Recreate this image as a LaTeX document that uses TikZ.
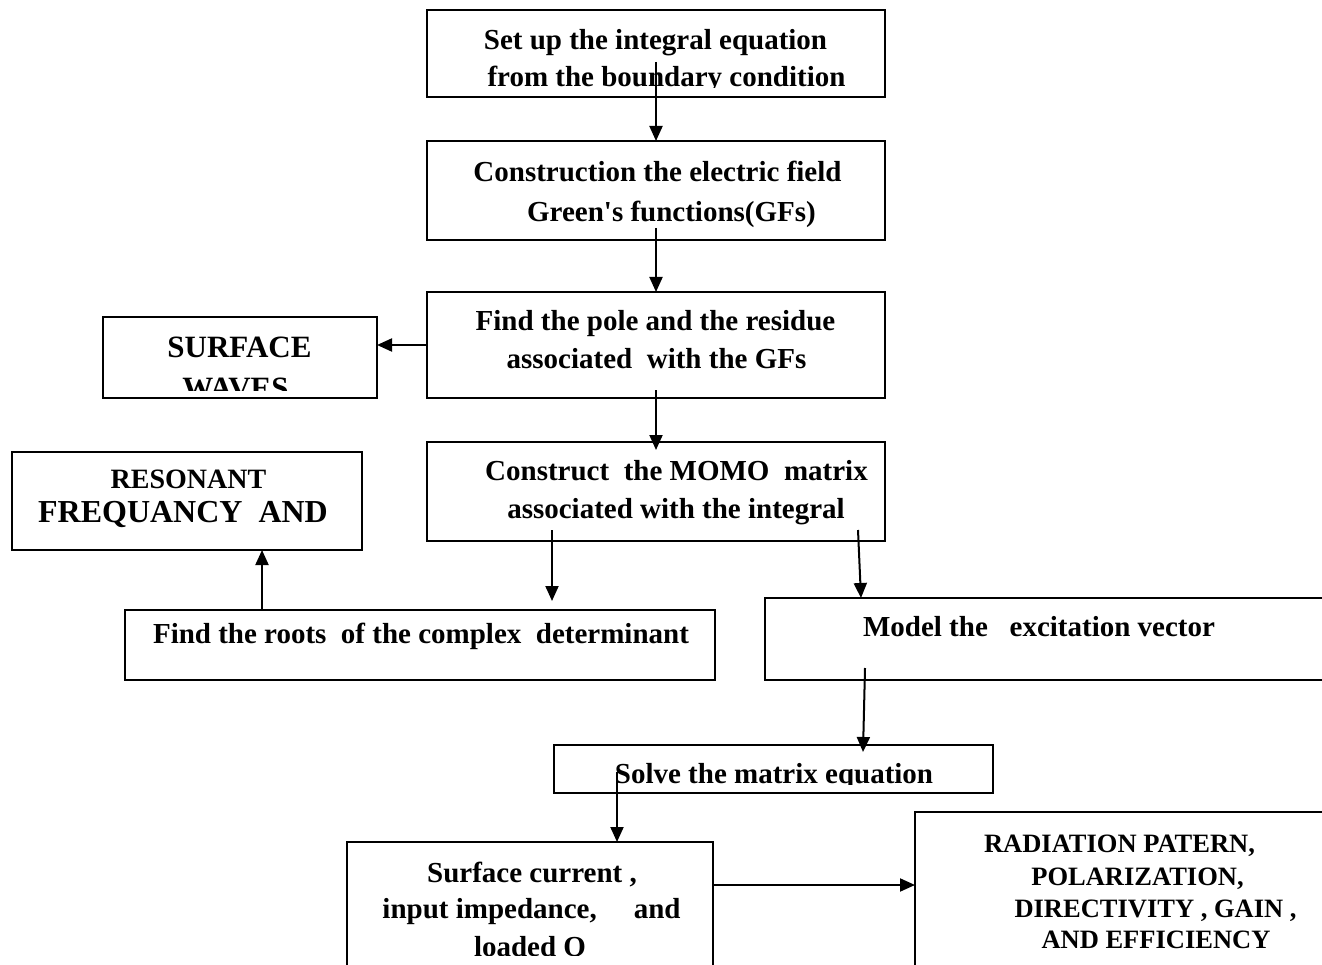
\documentclass[tikz,border=0pt]{standalone}
\usepackage{fontspec}
\setmainfont{Liberation Serif}[Ligatures=TeXOff]
\usetikzlibrary{arrows.meta,calc}
\tikzset{
  box/.style={draw, line width=2pt, rectangle, inner sep=0pt, outer sep=0pt},
  lbl/.style={anchor=base, inner sep=0pt, outer sep=0pt, font=\bfseries\fontsize{29}{29}\selectfont},
  big/.style={font=\bfseries\fontsize{31}{31}\selectfont},
  small/.style={font=\bfseries\fontsize{26.5}{26.5}\selectfont},
  arr/.style={line width=2pt, -{Triangle[length=15pt,width=13pt]}}
}
\begin{document}
\begin{tikzpicture}[x=1pt,y=-1pt]
\useasboundingbox (0,0) rectangle (1322,965);
\clip (0,0) rectangle (1322,965);

% boxes
\node[box, minimum width=458pt, minimum height=87pt]  (A) at (656,53.5) {};
\node[box, minimum width=458pt, minimum height=99pt]  (B) at (656,190.5) {};
\node[box, minimum width=458pt, minimum height=106pt] (C) at (656,345) {};
\node[box, minimum width=274pt, minimum height=81pt]  (D) at (240,357.5) {};
\node[box, minimum width=458pt, minimum height=99pt]  (E) at (656,491.5) {};
\node[box, minimum width=350pt, minimum height=98pt]  (F) at (187,501) {};
\node[box, minimum width=590pt, minimum height=70pt]  (G) at (420,645) {};
\node[box, minimum width=580pt, minimum height=82pt]  (H) at (1055,639) {};
\node[box, minimum width=439pt, minimum height=48pt]  (I) at (773.5,769) {};
\node[box, minimum width=366pt, minimum height=148pt] (J) at (530,916) {};
\node[box, minimum width=430pt, minimum height=178pt] (K) at (1130,901) {};

% texts
\node[lbl] (tA1) at (655.5,50) {Set up the integral equation};
\begin{scope}
  \clip (427,10) rectangle (885,88);
  \node[lbl] (tA2) at (666.5,87) {from the boundary condition};
\end{scope}
\node[lbl] (tB1) at (657.5,182) {Construction the electric field};
\node[lbl] (tB2) at (671.5,222) {Green's functions(GFs)};
\node[lbl] (tC1) at (655.5,331) {Find the pole and the residue};
\node[lbl] (tC2) at (656.5,369) {associated\ \ with the GFs};
\node[lbl, big] (tD1) at (239.5,357) {SURFACE};
\begin{scope}
  \clip (103,317) rectangle (377,390);
  \node[lbl, big] (tD2) at (235.5,398) {WAVES};
\end{scope}
\node[lbl] (tE1) at (676.5,480) {Construct\ \ the MOMO\ \ matrix};
\node[lbl] (tE2) at (676,518) {associated with the integral};
\node[lbl, font=\bfseries\fontsize{28}{28}\selectfont] (tF1) at (188.5,488) {RESONANT};
\node[lbl, font=\bfseries\fontsize{32}{32}\selectfont] (tF2) at (183,522) {FREQUANCY\ \ AND};
\node[lbl] (tG) at (421,643) {Find the roots\ \ of the complex\ \ determinant};
\node[lbl] (tH) at (1039,636) {Model the\ \ \ excitation vector};
\begin{scope}
  \clip (554,745) rectangle (993,784);
  \node[lbl] (tI) at (774,783) {Solve the matrix equation};
\end{scope}
\node[lbl] (tJ1) at (532,882) {Surface current ,};
\node[lbl] (tJ2) at (531.5,918) {input impedance,\hspace{37pt}and};
\begin{scope}
  \clip (347,842) rectangle (713,955.5);
  \node[lbl] (tJ3) at (530,956) {loaded Q};
\end{scope}
\node[lbl, small] (tK1) at (1119.5,852) {RADIATION PATERN,};
\node[lbl, small] (tK2) at (1137.5,885) {POLARIZATION,};
\node[lbl, small] (tK3) at (1155.5,917) {DIRECTIVITY , GAIN ,};
\node[lbl, small] (tK4) at (1156,948) {AND EFFICIENCY};

% connectors
\draw[arr] ($(A.south)+(0,-35)$) -- (B.north);
\draw[arr] ($(B.south)+(0,-12)$) -- (C.north);
\draw[arr] (C.west) -- (C.west -| D.east);
\draw[arr] ($(C.south)+(0,-8)$) -- ($(E.north)+(0,8)$);
\draw[arr] ($(E.south)+(-104,-11)$) -- ($(G.north)+(132,-9)$);
\draw[arr] ($(E.south)+(202,-11)$) -- ($(H.north)+(-194,0)$);
\draw[arr] ($(G.north)+(-158,0)$) -- ($(F.south)+(75,0)$);
\draw[arr] ($(H.south)+(-190,-12)$) -- ($(I.north)+(89.5,7)$);
\draw[arr] ($(I.north)+(-156.5,27)$) -- ($(J.north)+(87,0)$);
\coordinate (jk) at ($(J.east)+(0,-31)$);
\draw[arr] (jk) -- (jk -| K.west);
\end{tikzpicture}
\end{document}
